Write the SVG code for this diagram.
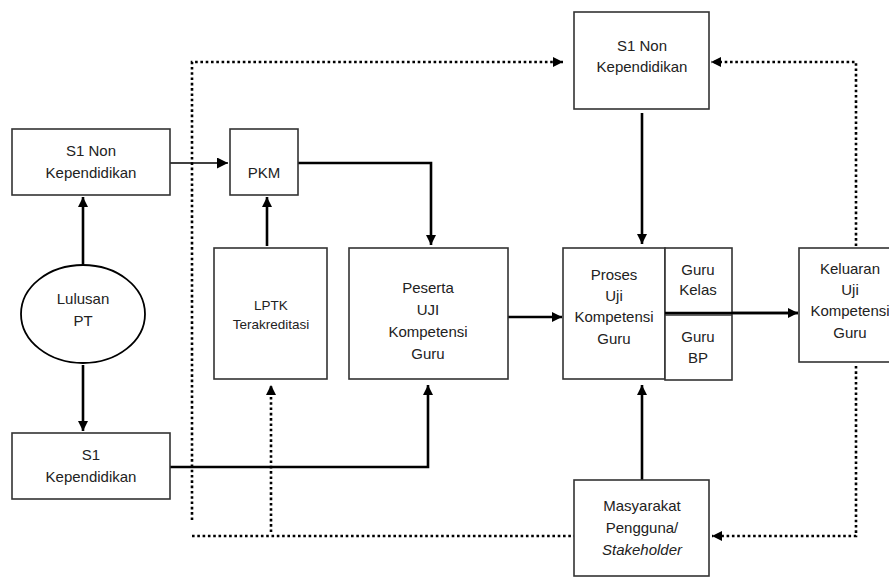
<svg xmlns="http://www.w3.org/2000/svg" width="889" height="577" viewBox="0 0 889 577">
<style>
.box{fill:#fff;stroke:#333;stroke-width:1.6}
.t{font-family:"Liberation Sans",Arial,sans-serif;font-size:15px;fill:#222;text-anchor:middle}
.s{font-size:13.5px}
.c{fill:none;stroke:#000;stroke-width:2.6}
.thin{stroke-width:1.6}
.d{fill:none;stroke:#000;stroke-width:2.6;stroke-dasharray:2.6 2.7}
</style>
<defs>
<marker id="ah" viewBox="0 0 10 10" refX="10" refY="5" markerWidth="10" markerHeight="10" markerUnits="userSpaceOnUse" orient="auto">
<path d="M0,0 L10,5 L0,10 z" fill="#000"/>
</marker>
<marker id="ahs" viewBox="0 0 10 10" refX="10" refY="5" markerWidth="11" markerHeight="11" markerUnits="userSpaceOnUse" orient="auto">
<path d="M0,0 L10,5 L0,10 z" fill="#000"/>
</marker>
</defs>
<rect width="889" height="577" fill="#fff"/>
<g id="connectors">
<line class="c thin" x1="170" y1="163" x2="228" y2="163" marker-end="url(#ahs)"/>
<path class="c" d="M298,163 H431 V245" marker-end="url(#ah)"/>
<line class="c" x1="83" y1="264" x2="83" y2="197" marker-end="url(#ah)"/>
<line class="c" x1="267" y1="246" x2="267" y2="197" marker-end="url(#ah)"/>
<line class="c" x1="83" y1="365" x2="83" y2="431" marker-end="url(#ah)"/>
<path class="c" d="M170,467 H428 V385" marker-end="url(#ah)"/>
<line class="c" x1="508" y1="317" x2="562" y2="317" marker-end="url(#ah)"/>
<line class="c" x1="642" y1="113" x2="642" y2="244" marker-end="url(#ah)"/>
<line class="c" x1="665" y1="313" x2="798" y2="313" marker-end="url(#ah)"/>
<line class="c" x1="642" y1="480" x2="642" y2="385" marker-end="url(#ah)"/>
<path class="d" d="M192,520 V62 H563" marker-end="url(#ah)"/>
<line class="d" x1="192" y1="536" x2="574" y2="536"/>
<line class="d" x1="271" y1="532" x2="271" y2="385" marker-end="url(#ah)"/>
<path class="d" d="M856,246 V62 H711" marker-end="url(#ah)"/>
<path class="d" d="M856,366 V536 H712" marker-end="url(#ah)"/>
</g>
<g id="s1non-left">
<rect class="box" x="12" y="129" width="158" height="66"/>
<text class="t" x="91" y="156">S1 Non</text>
<text class="t" x="91" y="178">Kependidikan</text>
</g>
<g id="pkm">
<rect class="box" x="230" y="129" width="68" height="66"/>
<text class="t" x="264" y="178">PKM</text>
</g>
<g id="lulusan">
<ellipse cx="83" cy="314" rx="62" ry="49" fill="#fff" stroke="#000" stroke-width="1.8"/>
<text class="t" x="83" y="304">Lulusan</text>
<text class="t" x="83" y="326">PT</text>
</g>
<g id="s1kep">
<rect class="box" x="12" y="433" width="158" height="66"/>
<text class="t" x="91" y="460">S1</text>
<text class="t" x="91" y="482">Kependidikan</text>
</g>
<g id="lptk">
<rect class="box" x="214" y="248" width="113" height="131"/>
<text class="t s" x="271" y="310">LPTK</text>
<text class="t s" x="271" y="329">Terakreditasi</text>
</g>
<g id="peserta">
<rect class="box" x="349" y="248" width="159" height="131"/>
<text class="t" x="428" y="293">Peserta</text>
<text class="t" x="428" y="315">UJI</text>
<text class="t" x="428" y="337">Kompetensi</text>
<text class="t" x="428" y="359">Guru</text>
</g>
<g id="s1non-top">
<rect class="box" x="574" y="12" width="135" height="97"/>
<text class="t" x="642" y="51">S1 Non</text>
<text class="t" x="642" y="72">Kependidikan</text>
</g>
<g id="proses">
<rect class="box" x="563" y="248" width="102" height="131"/>
<text class="t" x="614" y="280">Proses</text>
<text class="t" x="614" y="301">Uji</text>
<text class="t" x="614" y="322">Kompetensi</text>
<text class="t" x="614" y="344">Guru</text>
</g>
<g id="guru">
<rect class="box" x="665" y="248" width="67" height="132"/>
<line x1="665" y1="315" x2="732" y2="315" stroke="#333" stroke-width="1.6"/>
<text class="t" x="698" y="275">Guru</text>
<text class="t" x="698" y="295">Kelas</text>
<text class="t" x="698" y="342">Guru</text>
<text class="t" x="698" y="363">BP</text>
</g>
<g id="keluaran">
<rect class="box" x="799" y="248" width="102" height="114"/>
<text class="t" x="850" y="274">Keluaran</text>
<text class="t" x="850" y="295">Uji</text>
<text class="t" x="850" y="316">Kompetensi</text>
<text class="t" x="850" y="338">Guru</text>
</g>
<g id="masyarakat">
<rect class="box" x="574" y="480" width="135" height="96"/>
<text class="t" x="642" y="511">Masyarakat</text>
<text class="t" x="642" y="533">Pengguna/</text>
<text class="t" x="642" y="555" font-style="italic">Stakeholder</text>
</g>
<line x1="665" y1="313" x2="798" y2="313" stroke="#000" stroke-width="2.6"/>
</svg>
